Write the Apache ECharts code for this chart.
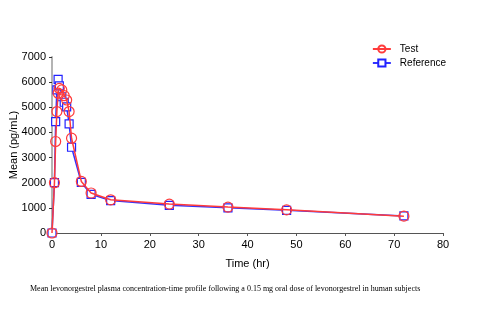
<!DOCTYPE html>
<html>
<head>
<meta charset="utf-8">
<script src="https://cdn.jsdelivr.net/npm/echarts@6/dist/echarts.min.js"></script>
<style>
  html, body { margin: 0; padding: 0; background: #fff; }
  #chart { width: 500px; height: 324px; }
</style>
</head>
<body>
<div id="chart"></div>
<script>
// sampling times (hr) and mean concentrations (pg/mL)
const times = [0, 0.5, 0.75, 1, 1.25, 1.5, 2, 2.5, 3, 3.5, 4, 6, 8, 12, 24, 36, 48, 72];
const testMeans = [0, 2000, 3640, 4830, 5560, 5750, 5690, 5460, 5290, 4830, 3770, 2050, 1590, 1320, 1150, 1030, 920, 670];
const refMeans = [0, 2000, 4430, 5690, 6110, 5850, 5420, 5200, 5020, 4340, 3410, 2010, 1540, 1290, 1100, 1000, 900, 680];
const xTicks = { min: 0, max: 80, interval: 10 };
const yTicks = { min: 0, max: 7000, interval: 1000 };
const caption = 'Mean levonorgestrel plasma concentration-time profile following a 0.15 mg oral dose of levonorgestrel in human subjects';

const pairs = (ys) => times.map((t, i) => [t, ys[i]]);
const font = 'Liberation Sans, Arial, sans-serif';

const chart = echarts.init(document.getElementById('chart'));
chart.setOption({
  animation: false,
  backgroundColor: '#fff',
  textStyle: { fontFamily: font },
  grid: { left: 52, right: 57, top: 57, bottom: 91, containLabel: false, outerBoundsMode: 'none' },
  legend: {
    orient: 'vertical',
    right: 49,
    top: 39,
    itemWidth: 18,
    itemHeight: 9,
    itemGap: 4,
    textStyle: { fontFamily: font, fontSize: 10, color: '#000', padding: [0, 0, 0, 4] },
    data: ['Test', 'Reference'],
  },
  xAxis: {
    type: 'value',
    ...xTicks,
    name: 'Time (hr)',
    nameLocation: 'middle',
    nameGap: 25,
    nameMoveOverlap: false,
    nameTextStyle: { fontFamily: font, fontSize: 11, color: '#000' },
    axisLine: { show: true, lineStyle: { color: '#555', width: 1 } },
    axisTick: { show: true, length: 3, lineStyle: { color: '#555' } },
    axisLabel: { fontFamily: font, fontSize: 11, color: '#000', margin: 6 },
    splitLine: { show: false },
  },
  yAxis: {
    type: 'value',
    ...yTicks,
    name: 'Mean (pg/mL)',
    nameLocation: 'middle',
    nameGap: 33,
    nameMoveOverlap: false,
    nameTextStyle: { fontFamily: font, fontSize: 11, color: '#000' },
    axisLine: { show: true, lineStyle: { color: '#b4b4b4', width: 2 } },
    axisTick: { show: true, length: 3, lineStyle: { color: '#333' } },
    axisLabel: { fontFamily: font, fontSize: 11, color: '#000', margin: 6, formatter: (v) => String(v) },
    splitLine: { show: false },
  },
  series: [
    {
      name: 'Reference',
      type: 'line',
      data: pairs(refMeans),
      symbol: 'rect',
      symbolSize: 8,
      showAllSymbol: true,
      lineStyle: { color: '#3333ff', width: 1.5 },
      itemStyle: { color: '#ffffff', borderColor: '#2222ff', borderWidth: 1.2 },
      z: 2,
    },
    {
      name: 'Test',
      type: 'line',
      data: pairs(testMeans),
      symbol: 'circle',
      symbolSize: 10,
      showAllSymbol: true,
      lineStyle: { color: '#ff3b3b', width: 1.5 },
      itemStyle: { color: 'rgba(255,255,255,0)', borderColor: '#ff3b3b', borderWidth: 1.2 },
      z: 3,
    },
  ],
  graphic: [
    {
      type: 'text',
      left: 30,
      top: 285,
      style: { text: caption, fontFamily: 'Liberation Serif, Times New Roman, serif', fontSize: 8, fill: '#000' },
    },
  ],
});
</script>
</body>
</html>
